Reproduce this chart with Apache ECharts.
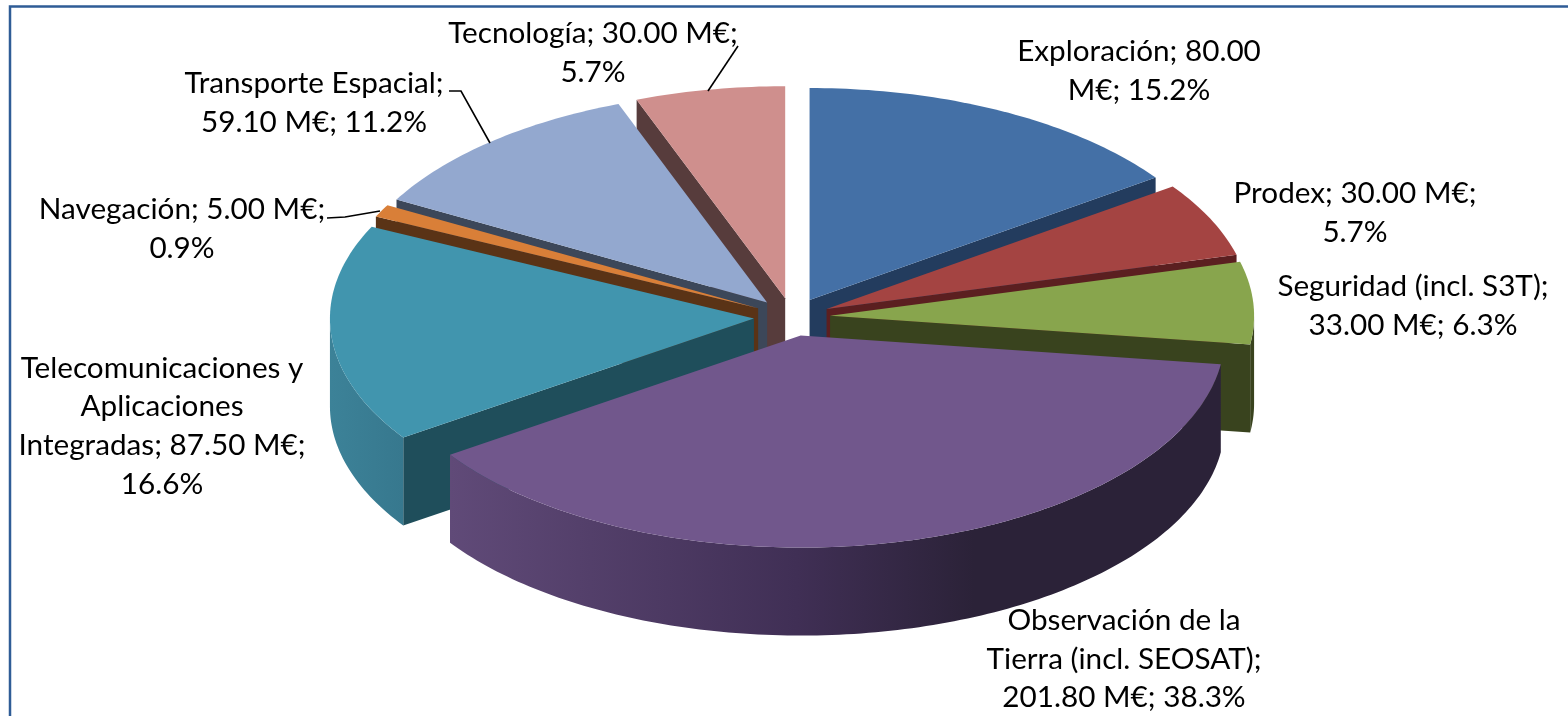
<!DOCTYPE html>
<html>
<head>
<meta charset="utf-8">
<style>
    html, body { margin: 0; padding: 0; background: #fff; }
    #chart { width: 1568px; height: 716px; }
</style>
<script src="https://cdn.jsdelivr.net/npm/echarts@6/dist/echarts.min.js"></script>
</head>
<body>
<div id="chart"></div>
<script>
const categories = ['Exploración', 'Prodex', 'Seguridad (incl. S3T)', 'Observación de la Tierra (incl. SEOSAT)',
    'Telecomunicaciones y Aplicaciones Integradas', 'Navegación', 'Transporte Espacial', 'Tecnología']
const values = [80, 30, 33, 201.8, 87.5, 5, 59.1, 30]
const labelTexts = [
    'Exploración; 80.00\nM€; 15.2%',
    'Prodex; 30.00 M€;\n5.7%',
    'Seguridad (incl. S3T);\n33.00 M€; 6.3%',
    'Observación de la\nTierra (incl. SEOSAT);\n201.80 M€; 38.3%',
    'Telecomunicaciones y\nAplicaciones\nIntegradas; 87.50 M€;\n16.6%',
    'Navegación; 5.00 M€;\n0.9%',
    'Transporte Espacial;\n59.10 M€; 11.2%',
    'Tecnología; 30.00 M€;\n5.7%'
]

// colores: cara superior, cortes radiales
const topColors = ['#4470a6', '#a44442', '#88a54d', '#71578c', '#4195ae', '#d97f38', '#93a8cf', '#cf8f8d']
const faceColors = ['#233c5e', '#5b1f20', '#39431e', '#2b2238', '#1f4e5b', '#5a3316', '#3c4759', '#573c3c']
const wallColors = ['#233c5e', '#5b1f20', '#39431e',
    { type: 'linear', x: 0, y: 0, x2: 1, y2: 0, colorStops: [
        { offset: 0, color: '#604a78' }, { offset: 0.45, color: '#402f55' },
        { offset: 0.68, color: '#2b2238' }, { offset: 1, color: '#2b2238' }] },
    { type: 'linear', x: 0, y: 0, x2: 1, y2: 0, colorStops: [
        { offset: 0, color: '#3c8298' }, { offset: 1, color: '#37788e' }] },
    '#5a3316', '#3c4759', '#573c3c']

// posicion de las etiquetas (centro) y lineas guia
const labelPos = [[1139, 71], [1355, 213], [1413, 306], [1124, 659], [162, 426], [182, 229], [314, 103], [593, 53]]
const leaders = {
    5: [[327, 218], [345, 217], [380, 211]],
    6: [[449, 91], [461, 91], [490, 143]],
    7: [[738, 46], [708, 91]]
}

const cx = 792
const cy = 317
const rx = 424
const ry = 212
const depth = 88
const explode = 0.09
const font = '29.7px Lato, "Open Sans", sans-serif'

const total = values.reduce((a, b) => a + b, 0)

function sliceAngles(i) {
    const before = values.slice(0, i).reduce((a, b) => a + b, 0)
    return [before / total * 360, (before + values[i]) / total * 360]
}

function pointAt(apex, deg, dy) {
    const t = deg * Math.PI / 180
    return [apex[0] + rx * Math.sin(t), apex[1] - ry * Math.cos(t) + (dy || 0)]
}

// orden de pintado: de atras hacia delante
const paintRank = values.map((v, i) => {
    const [a0, a1] = sliceAngles(i)
    return { i, back: Math.cos((a0 + a1) / 2 * Math.PI / 180) }
}).sort((a, b) => b.back - a.back).map(d => d.i)

function renderSlice(params, api) {
    const i = params.dataIndex
    const [a0, a1] = sliceAngles(i)
    const mid = (a0 + a1) / 2 * Math.PI / 180
    const apex = [cx + explode * rx * Math.sin(mid), cy - explode * ry * Math.cos(mid)]
    const apexLow = [apex[0], apex[1] + depth]
    const z = paintRank.indexOf(i) * 10 + 1
    const children = []
    const poly = (points, fill, z2) => children.push({
        type: 'polygon', z2, shape: { points }, style: { fill, stroke: null }
    })

    if (Math.sin(a0 * Math.PI / 180) < -1e-6) {
        poly([apex, pointAt(apex, a0), pointAt(apex, a0, depth), apexLow], faceColors[i], z)
    }
    if (Math.sin(a1 * Math.PI / 180) > 1e-6) {
        poly([apex, pointAt(apex, a1), pointAt(apex, a1, depth), apexLow], faceColors[i], z)
    }
    // pared exterior, solo la mitad que mira al frente
    const w0 = Math.max(a0, 90)
    const w1 = Math.min(a1, 270)
    if (w1 > w0) {
        const upper = []
        const lower = []
        for (let a = w0; a < w1; a += 1) {
            upper.push(pointAt(apex, a))
            lower.unshift(pointAt(apex, a, depth))
        }
        upper.push(pointAt(apex, w1))
        lower.unshift(pointAt(apex, w1, depth))
        poly(upper.concat(lower), wallColors[i], z + 1)
    }
    const top = [apex]
    for (let a = a0; a < a1; a += 1) top.push(pointAt(apex, a))
    top.push(pointAt(apex, a1))
    poly(top, topColors[i], z + 2)

    if (leaders[i]) {
        children.push({
            type: 'polyline', z2: 200, shape: { points: leaders[i] },
            style: { fill: null, stroke: '#000', lineWidth: 1.6 }
        })
    }
    children.push({
        type: 'text', z2: 201,
        style: {
            text: labelTexts[i], x: labelPos[i][0], y: labelPos[i][1],
            align: 'center', verticalAlign: 'middle',
            font, lineHeight: 38.7, fill: '#000'
        }
    })
    return { type: 'group', children }
}

const chart = echarts.init(document.getElementById('chart'), null, { renderer: 'canvas' })
chart.setOption({
    animation: false,
    backgroundColor: '#fff',
    graphic: [{
        type: 'polyline', z: 0,
        shape: { points: [[10, 716], [10, 6.5], [1568, 6.5]] },
        style: { fill: null, stroke: '#2f5c96', lineWidth: 2.5 }
    }],
    series: [{
        type: 'custom',
        coordinateSystem: 'none',
        renderItem: renderSlice,
        data: categories.map((name, i) => ({ name, value: values[i] }))
    }]
})
</script>
</body>
</html>
